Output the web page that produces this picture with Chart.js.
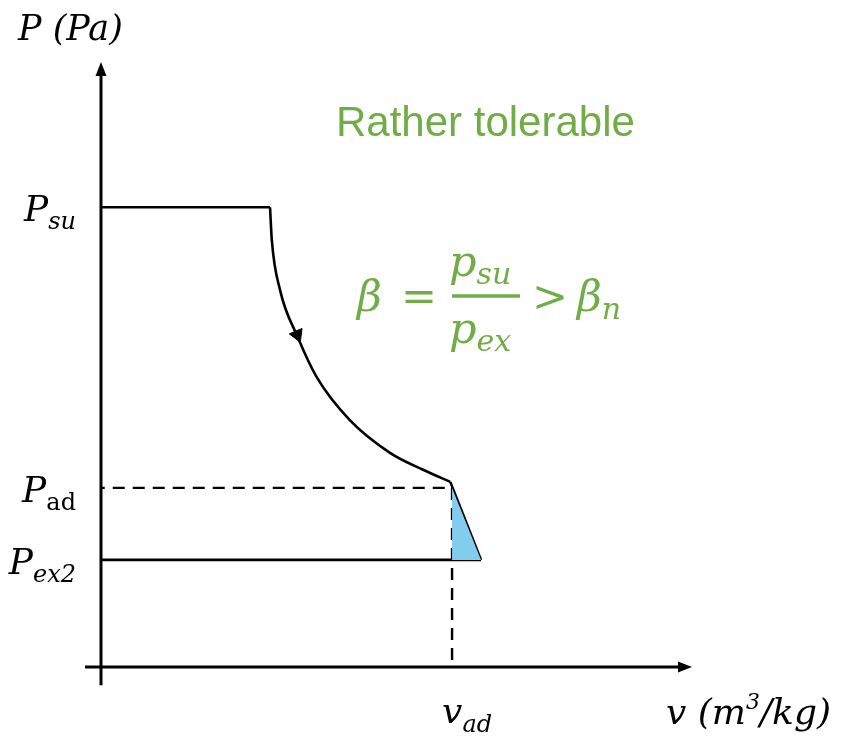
<!DOCTYPE html>
<html>
<head>
<meta charset="utf-8">
<script src="https://cdn.jsdelivr.net/npm/chart.js@4.4.0/dist/chart.umd.min.js"></script>
<style>
  html, body { margin: 0; padding: 0; background: #fff; }
  canvas { display: block; }
</style>
</head>
<body>
<canvas id="pv" width="841" height="740"></canvas>
<script>
// Pressure levels on the P axis (arbitrary units)
const levelNames = ['su', 'ad', 'ex2']
const levelValues = [7.6, 2.96, 1.77]

// Specific volumes on the v axis
const vCutoff = 2.86   // end of the supply phase
const vAd = 5.94       // end of the adiabatic expansion
const vEx = 6.43       // end of the under-expansion drop

// Expansion curve, read point by point from Psu down to its end
const expansionV = [2.86, 2.89, 3.03, 3.33, 3.65, 4.21, 4.89, 5.45, 5.91]
const expansionP = [7.60, 7.06, 6.23, 5.45, 4.79, 4.08, 3.54, 3.26, 3.06]

// Flow direction marker on the curve
const arrowV = [3.32]
const arrowP = [5.49]

const [pSu, pAd, pEx2] = levelValues
const vCurveEnd = expansionV[expansionV.length - 1]
const pCurveEnd = expansionP[expansionP.length - 1]
const axisLeft = -0.14
const green = '#70ad47'
const serif = '"DejaVu Serif", serif'

const toPoints = (xs, ys) => xs.map((x, i) => ({ x, y: ys[i] }))

const line = (data, extra = {}) => ({
  data,
  showLine: true,
  borderColor: '#000',
  borderWidth: 2.6,
  pointRadius: 0,
  fill: false,
  ...extra,
})

// Draws a main glyph followed by a subscript, returns the end x
function drawSub(ctx, main, sub, x, y, mainFont, subFont, subDy) {
  ctx.font = mainFont
  ctx.fillText(main, x, y)
  const w = ctx.measureText(main).width
  ctx.font = subFont
  ctx.fillText(sub, x + w, y + subDy)
  return x + w + ctx.measureText(sub).width
}

function subWidth(ctx, main, sub, mainFont, subFont) {
  ctx.font = mainFont
  const w = ctx.measureText(main).width
  ctx.font = subFont
  return w + ctx.measureText(sub).width
}

const axesPlugin = {
  id: 'pvAxes',
  afterDatasetsDraw(chart) {
    const { ctx, scales: { x, y } } = chart
    const x0 = x.getPixelForValue(0)
    const y0 = y.getPixelForValue(0)
    const yTop = y.getPixelForValue(10)
    const xRight = x.getPixelForValue(10)

    ctx.save()
    ctx.strokeStyle = '#000'
    ctx.fillStyle = '#000'
    ctx.lineWidth = 3

    // P axis
    ctx.beginPath()
    ctx.moveTo(x0, y.getPixelForValue(-0.3))
    ctx.lineTo(x0, yTop + 8)
    ctx.stroke()
    ctx.beginPath()
    ctx.moveTo(x0, yTop)
    ctx.lineTo(x0 - 5.5, yTop + 14)
    ctx.lineTo(x0 + 5.5, yTop + 14)
    ctx.closePath()
    ctx.fill()

    // v axis
    ctx.beginPath()
    ctx.moveTo(x.getPixelForValue(-0.27), y0)
    ctx.lineTo(xRight - 8, y0)
    ctx.stroke()
    ctx.beginPath()
    ctx.moveTo(xRight, y0)
    ctx.lineTo(xRight - 14, y0 - 5.5)
    ctx.lineTo(xRight - 14, y0 + 5.5)
    ctx.closePath()
    ctx.fill()

    // axis titles and level labels
    const mainFont = `italic 36px ${serif}`
    const subItalic = `italic 24px ${serif}`
    const subUpright = `24px ${serif}`
    ctx.textBaseline = 'alphabetic'
    ctx.textAlign = 'left'

    ctx.font = `italic 35px ${serif}`
    ctx.fillText('P (Pa)', 18, 40)

    levelNames.forEach((name, i) => {
      const py = y.getPixelForValue(levelValues[i])
      const subFont = name === 'ad' ? subUpright : subItalic
      const w = subWidth(ctx, 'P', name, mainFont, subFont)
      const startX = x0 - 25 - w
      drawSub(ctx, 'P', name, startX, py + 14, mainFont, subFont, 8)
    })

    const vx = x.getPixelForValue(vAd)
    drawSub(ctx, 'v', 'ad', vx - 10, y0 + 56, mainFont, subItalic, 9)

    ctx.font = `italic 36px ${serif}`
    const vLabel = x.getPixelForValue(10) - 26
    ctx.fillText('v (m', vLabel, y0 + 57)
    let cx = vLabel + ctx.measureText('v (m').width
    ctx.font = `italic 22px ${serif}`
    ctx.fillText('3', cx, y0 + 42)
    cx += ctx.measureText('3').width
    ctx.font = `italic 36px ${serif}`
    ctx.fillText('/kg)', cx, y0 + 57)

    // annotation
    ctx.fillStyle = green
    ctx.strokeStyle = green
    ctx.font = '42px "Liberation Sans", Arial, sans-serif'
    ctx.fillText('Rather tolerable', 336, 136)

    const mf = `italic 43px ${serif}`
    const sf = `italic 30px ${serif}`
    const uf = `43px ${serif}`
    ctx.font = mf
    ctx.fillText('\u03b2', 357, 311)
    ctx.font = uf
    ctx.fillText('=', 401, 311)
    ctx.lineWidth = 3.5
    ctx.beginPath()
    ctx.moveTo(452, 296)
    ctx.lineTo(520, 296)
    ctx.stroke()
    drawSub(ctx, 'p', 'su', 449, 276, mf, sf, 8)
    drawSub(ctx, 'p', 'ex', 449, 343, mf, sf, 8)
    ctx.font = uf
    ctx.fillText('>', 532, 311)
    drawSub(ctx, '\u03b2', 'n', 577, 311, mf, sf, 8)

    ctx.restore()
  },
}

new Chart(document.getElementById('pv'), {
  type: 'scatter',
  data: {
    datasets: [
      // under-expansion area
      line(toPoints([vAd, vEx, vAd], [pAd, pEx2, pEx2]), {
        borderWidth: 0,
        backgroundColor: '#82cdee',
        fill: 'shape',
      }),
      // supply at constant pressure
      line(toPoints([axisLeft, vCutoff], [pSu, pSu])),
      // expansion
      line(toPoints(expansionV, expansionP), { cubicInterpolationMode: 'monotone' }),
      // drop to exhaust pressure
      line(toPoints([vCurveEnd, vEx], [pCurveEnd, pEx2])),
      line(toPoints([axisLeft, vEx], [pEx2, pEx2])),
      // dashed guides at the adiabatic end point
      line(toPoints([axisLeft, vAd], [pAd, pAd]), { borderDash: [12, 8], borderWidth: 2.4 }),
      line(toPoints([vAd, vAd], [pAd, 0]), { borderDash: [12, 8], borderWidth: 2.4 }),
      // flow direction
      {
        data: toPoints(arrowV, arrowP),
        showLine: false,
        pointStyle: 'triangle',
        pointRadius: 8,
        rotation: 157,
        backgroundColor: '#000',
        borderColor: '#000',
        borderWidth: 1,
      },
    ],
  },
  options: {
    responsive: false,
    animation: false,
    layout: { padding: { left: 101, right: 149, top: 62, bottom: 73 } },
    plugins: { legend: { display: false }, tooltip: { enabled: false } },
    scales: {
      x: { type: 'linear', min: 0, max: 10, display: false },
      y: { type: 'linear', min: 0, max: 10, display: false },
    },
  },
  plugins: [axesPlugin],
})
</script>
</body>
</html>
